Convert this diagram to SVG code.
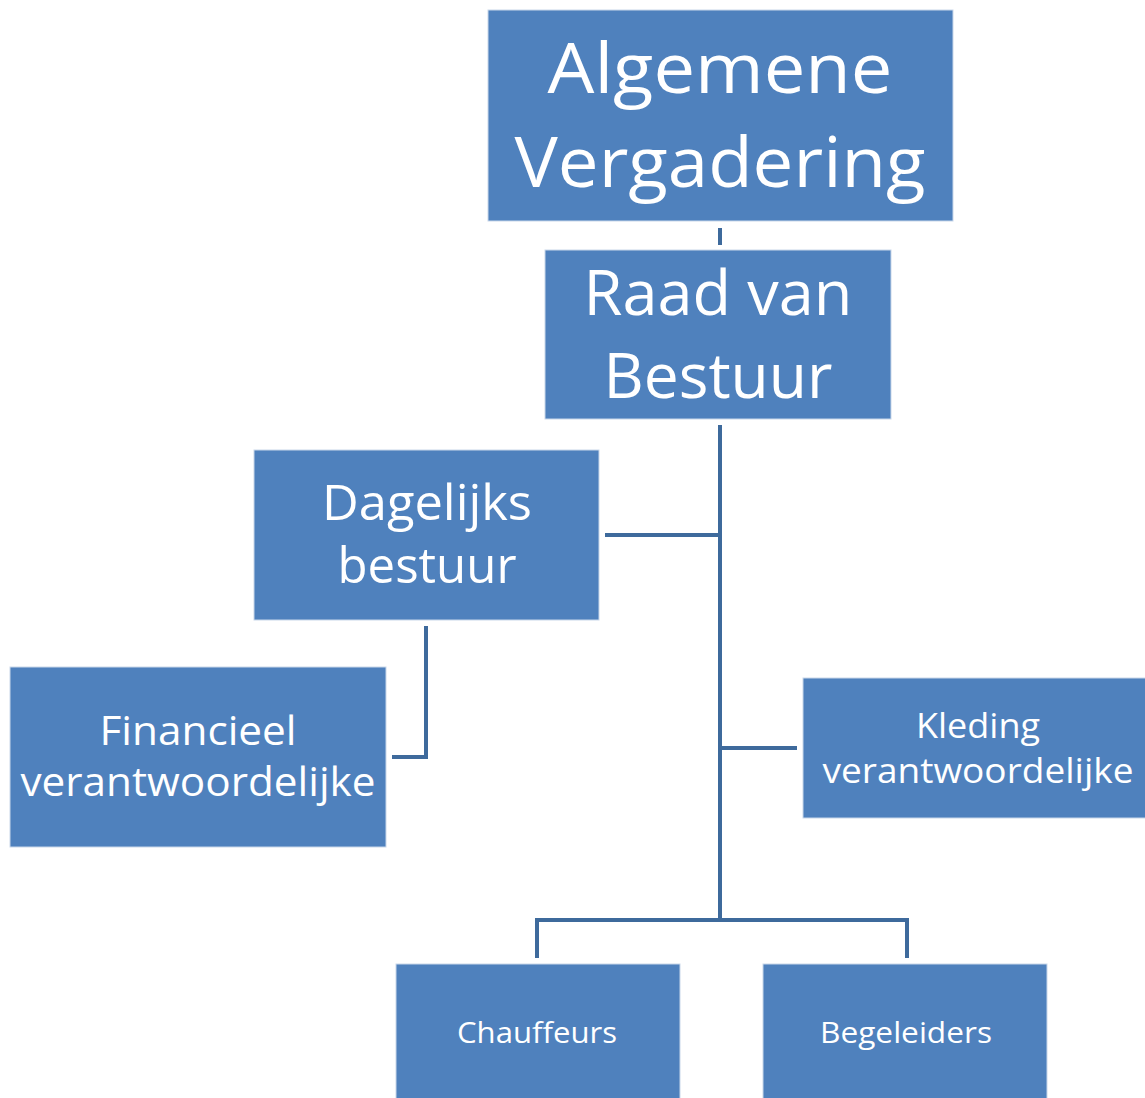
<svg xmlns="http://www.w3.org/2000/svg" width="1145" height="1098" viewBox="0 0 1145 1098">
<style>
.box{fill:#4F81BD;stroke:#C9D7EA;stroke-width:1}
.t{fill:#FFFFFF;font-family:"Open Sans","Liberation Sans",sans-serif;text-anchor:middle}
.c{fill:none;stroke:#3E6A9C;stroke-width:4;stroke-linejoin:miter}
</style>
<rect width="1145" height="1098" fill="#FFFFFF"/>
<g id="connectors">
<line class="c" x1="720" y1="228" x2="720" y2="245"/>
<line class="c" x1="720" y1="425" x2="720" y2="920"/>
<line class="c" x1="605" y1="535" x2="720" y2="535"/>
<line class="c" x1="720" y1="748" x2="797" y2="748"/>
<polyline class="c" points="426,626 426,757 392,757"/>
<polyline class="c" points="537,958 537,920 907,920 907,958"/>
</g>
<g id="algemene-vergadering">
<rect class="box" x="488" y="10" width="465" height="211"/>
<text class="t" x="720" y="93" font-size="70" textLength="345" lengthAdjust="spacingAndGlyphs">Algemene</text>
<text class="t" x="720" y="187" font-size="70" textLength="411" lengthAdjust="spacingAndGlyphs">Vergadering</text>
</g>
<g id="raad-van-bestuur">
<rect class="box" x="545" y="250" width="346" height="169"/>
<text class="t" x="718" y="315" font-size="62" textLength="269" lengthAdjust="spacingAndGlyphs">Raad van</text>
<text class="t" x="718" y="398" font-size="62" textLength="229" lengthAdjust="spacingAndGlyphs">Bestuur</text>
</g>
<g id="dagelijks-bestuur">
<rect class="box" x="254" y="450" width="345" height="170"/>
<text class="t" x="427" y="520" font-size="49" textLength="210" lengthAdjust="spacingAndGlyphs">Dagelijks</text>
<text class="t" x="427" y="583" font-size="49" textLength="179" lengthAdjust="spacingAndGlyphs">bestuur</text>
</g>
<g id="financieel-verantwoordelijke">
<rect class="box" x="10" y="667" width="376" height="180"/>
<text class="t" x="198" y="745" font-size="40" textLength="197" lengthAdjust="spacingAndGlyphs">Financieel</text>
<text class="t" x="198" y="796" font-size="40" textLength="355" lengthAdjust="spacingAndGlyphs">verantwoordelijke</text>
</g>
<g id="kleding-verantwoordelijke">
<rect class="box" x="803" y="678" width="345" height="140"/>
<text class="t" x="978" y="738" font-size="35" textLength="124" lengthAdjust="spacingAndGlyphs">Kleding</text>
<text class="t" x="978" y="783" font-size="35" textLength="311" lengthAdjust="spacingAndGlyphs">verantwoordelijke</text>
</g>
<g id="chauffeurs">
<rect class="box" x="396" y="964" width="284" height="140"/>
<text class="t" x="537" y="1043" font-size="30" textLength="160" lengthAdjust="spacingAndGlyphs">Chauffeurs</text>
</g>
<g id="begeleiders">
<rect class="box" x="763" y="964" width="284" height="140"/>
<text class="t" x="906" y="1043" font-size="30" textLength="172" lengthAdjust="spacingAndGlyphs">Begeleiders</text>
</g>
</svg>
